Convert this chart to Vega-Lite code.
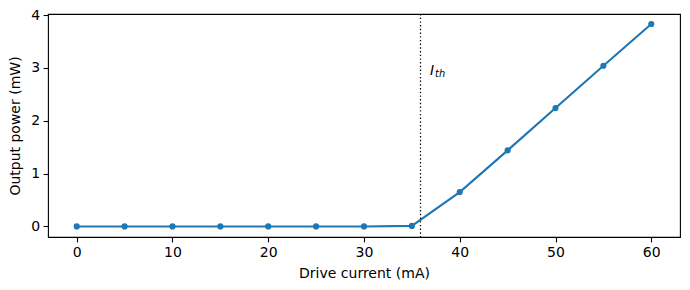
{
  "$schema": "https://vega.github.io/schema/vega-lite/v6.json",
  "autosize": {"type": "none"},
  "width": 632,
  "height": 223,
  "padding": {"left": 48, "top": 14, "right": 10, "bottom": 53},
  "background": "white",
  "config": {
    "font": "DejaVu Sans",
    "view": {"stroke": "black", "strokeWidth": 1.1},
    "axis": {
      "grid": false,
      "domain": false,
      "tickColor": "black",
      "tickSize": 4.9,
      "tickWidth": 1.1,
      "labelFont": "DejaVu Sans",
      "labelFontSize": 14,
      "labelColor": "black",
      "labelPadding": 3.5,
      "titleFont": "DejaVu Sans",
      "titleFontSize": 14,
      "titleFontWeight": "normal",
      "titleColor": "black"
    }
  },
  "datasets": {
    "pts": [
      {"current": 0, "power": 0},
      {"current": 5, "power": 0},
      {"current": 10, "power": 0},
      {"current": 15, "power": 0},
      {"current": 20, "power": 0},
      {"current": 25, "power": 0},
      {"current": 30, "power": 0},
      {"current": 35, "power": 0.01},
      {"current": 40, "power": 0.65},
      {"current": 45, "power": 1.44},
      {"current": 50, "power": 2.24},
      {"current": 55, "power": 3.04},
      {"current": 60, "power": 3.83}
    ],
    "th": [{"ith": 35.9, "lx": 36.9, "ly": 2.95}]
  },
  "layer": [
    {
      "data": {"name": "pts"},
      "mark": {"type": "line", "color": "#1f77b4", "strokeWidth": 2.1, "point": {"filled": true, "color": "#1f77b4", "size": 38, "opacity": 1}},
      "encoding": {
        "x": {"field": "current", "type": "quantitative", "scale": {"domain": [-3, 63], "nice": false, "zero": false}, "axis": {"values": [0, 10, 20, 30, 40, 50, 60], "format": "d", "title": "Drive current (mA)", "titlePadding": 7}},
        "y": {"field": "power", "type": "quantitative", "scale": {"domain": [-0.2, 4.02], "nice": false, "zero": false}, "axis": {"values": [0, 1, 2, 3, 4], "format": "d", "title": "Output power (mW)", "titlePadding": 8}}
      }
    },
    {
      "data": {"name": "th"},
      "mark": {"type": "rule", "color": "black", "strokeWidth": 1.2, "strokeDash": [1.4, 2.3]},
      "encoding": {"x": {"field": "ith", "type": "quantitative"}}
    },
    {
      "data": {"name": "th"},
      "mark": {"type": "text", "text": "I", "fontStyle": "italic", "fontSize": 14, "align": "left", "baseline": "middle", "color": "black"},
      "encoding": {"x": {"field": "lx", "type": "quantitative"}, "y": {"field": "ly", "type": "quantitative"}}
    },
    {
      "data": {"name": "th"},
      "mark": {"type": "text", "text": "th", "fontStyle": "italic", "fontSize": 9.8, "align": "left", "baseline": "middle", "dx": 5, "dy": 3, "color": "black"},
      "encoding": {"x": {"field": "lx", "type": "quantitative"}, "y": {"field": "ly", "type": "quantitative"}}
    }
  ]
}
